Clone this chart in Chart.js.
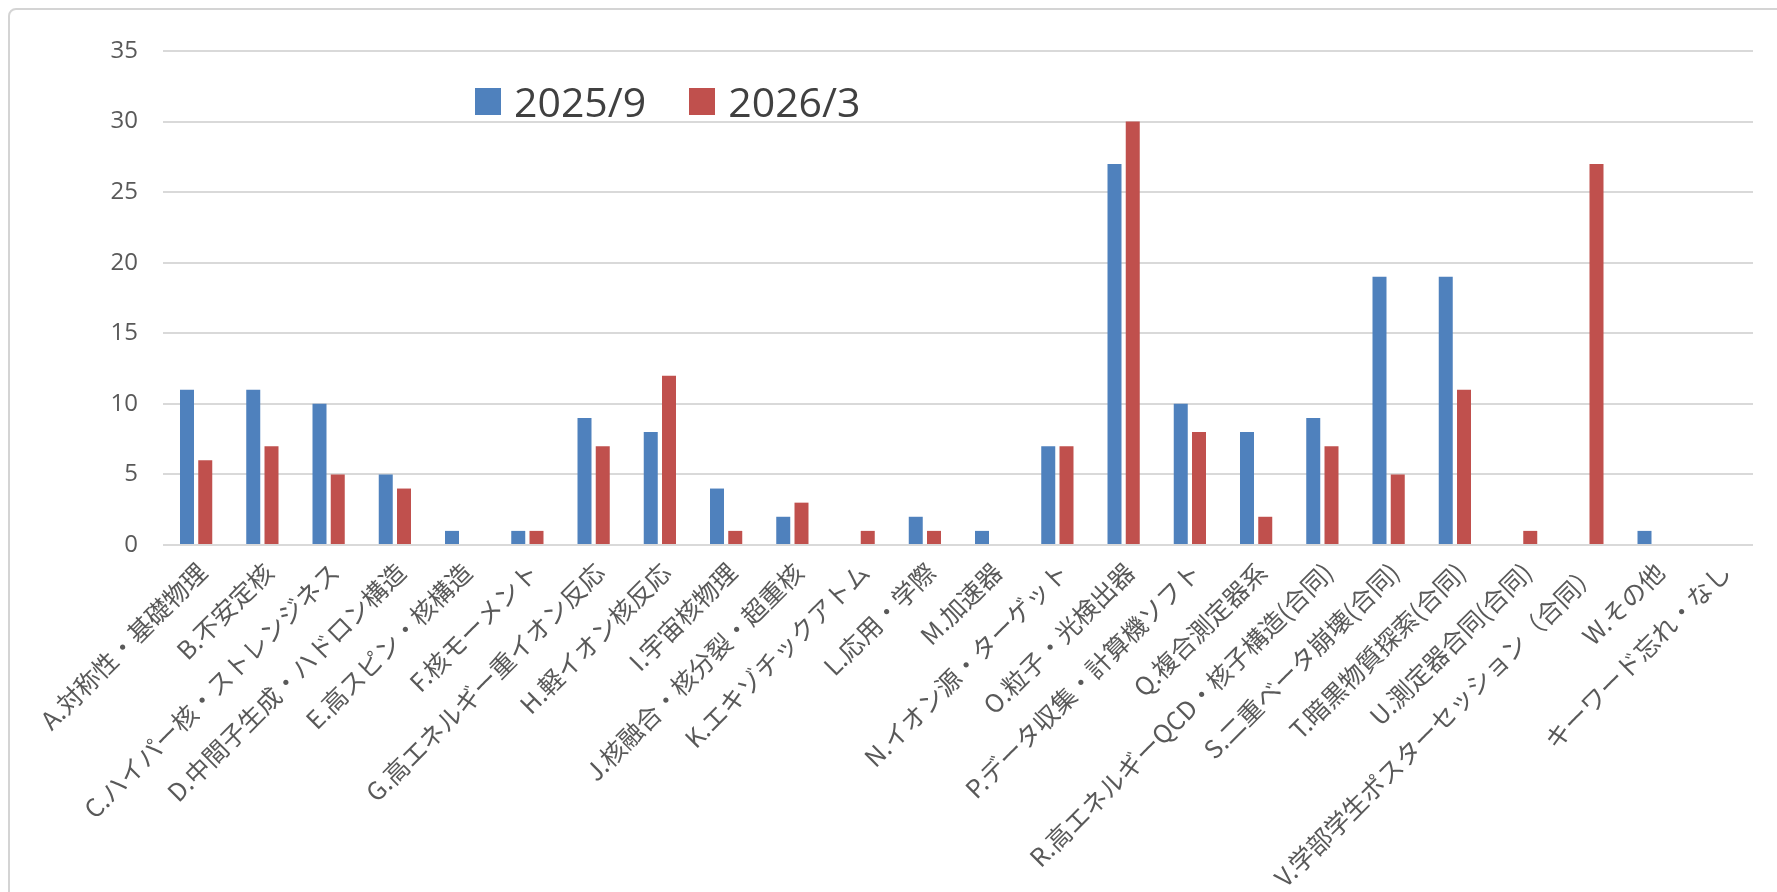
<!DOCTYPE html>
<html lang="ja">
<head>
<meta charset="utf-8">
<title>キーワード別件数</title>
<script src="https://cdn.jsdelivr.net/npm/chart.js@4.4.1/dist/chart.umd.min.js"></script>
<style>
  html, body { margin: 0; padding: 0; background: #fff; overflow: hidden; }
  #wrap { position: relative; width: 1777px; height: 892px; }
  #frame {
    position: absolute; left: 8px; top: 8px; width: 1800px; height: 920px;
    border: 2px solid #d4d4d4; border-radius: 8px; box-sizing: border-box;
  }
  #legend {
    position: absolute; left: 475px; top: 79px;
    display: flex; align-items: center;
    font-family: "Open Sans", sans-serif; font-size: 41px; line-height: 44px; color: #404040;
  }
  .lg-item { display: flex; align-items: center; margin-right: 43px; }
  .lg-box { width: 26px; height: 27px; margin-right: 13px; }
</style>
</head>
<body>
<div id="wrap">
  <div id="frame"></div>
  <canvas id="keywordChart"></canvas>
  <div id="legend"></div>
</div>
<script>
// categories (keywords)
const categories = [
  'A.対称性・基礎物理',
  'B.不安定核',
  'C.ハイパー核・ストレンジネス',
  'D.中間子生成・ハドロン構造',
  'E.高スピン・核構造',
  'F.核モーメント',
  'G.高エネルギー重イオン反応',
  'H.軽イオン核反応',
  'I.宇宙核物理',
  'J.核融合・核分裂・超重核',
  'K.エキゾチックアトム',
  'L.応用・学際',
  'M.加速器',
  'N.イオン源・ターゲット',
  'O.粒子・光検出器',
  'P.データ収集・計算機ソフト',
  'Q.複合測定器系',
  'R.高エネルギーQCD・核子構造(合同)',
  'S.二重ベータ崩壊(合同)',
  'T.暗黒物質探索(合同)',
  'U.測定器合同(合同)',
  'V.学部学生ポスターセッション（合同）',
  'W.その他',
  'キーワード忘れ・なし'
];

const seriesNames = ['2025/9', '2026/3'];

// counts per keyword
const sep2025 = [11, 11, 10, 5, 1, 1, 9, 8, 4, 2, 0, 2, 1, 7, 27, 10, 8, 9, 19, 19, 0, 0, 1, 0];
const mar2026 = [6, 7, 5, 4, 0, 1, 7, 12, 1, 3, 1, 1, 0, 7, 30, 8, 2, 7, 5, 11, 1, 27, 0, 0];

// y axis ticks
const yTicks = [0, 5, 10, 15, 20, 25, 30, 35];

const BLUE = '#4f81bd';
const RED = '#c0504d';

const ctx = document.getElementById('keywordChart').getContext('2d');
const chart = new Chart(ctx, {
  type: 'bar',
  data: {
    labels: categories,
    datasets: [
      { label: seriesNames[0], data: sep2025, backgroundColor: BLUE },
      { label: seriesNames[1], data: mar2026, backgroundColor: RED }
    ]
  },
  options: {
    responsive: true,
    maintainAspectRatio: false,
    animation: false,
    devicePixelRatio: 1,
    layout: { padding: { top: 51, right: 24, left: 0, bottom: 0 } },
    datasets: {
      bar: { categoryPercentage: 0.551, barPercentage: 0.767, borderWidth: 0 }
    },
    plugins: {
      legend: { display: false },
      tooltip: { enabled: false }
    },
    scales: {
      x: {
        grid: { display: false, drawTicks: false },
        border: { display: false },
        ticks: {
          autoSkip: false,
          maxRotation: 45,
          minRotation: 45,
          padding: 12,
          labelOffset: 6,
          color: '#595959',
          font: { family: '"Noto Sans CJK JP", sans-serif', size: 25 }
        },
        afterFit: scale => { scale.height = 347; }
      },
      y: {
        min: 0,
        max: yTicks[yTicks.length - 1],
        afterBuildTicks: scale => { scale.ticks = yTicks.map(v => ({ value: v })); },
        grid: { color: '#d9d9d9', lineWidth: 2, drawTicks: false },
        border: { display: false },
        ticks: {
          padding: 25,
          color: '#595959',
          font: { family: '"Open Sans", sans-serif', size: 24 }
        },
        afterFit: scale => { scale.width = 163; }
      }
    }
  }
});

// legend built from the datasets, placed inside the plot like the original
const legend = document.getElementById('legend');
chart.data.datasets.forEach(ds => {
  const item = document.createElement('div');
  item.className = 'lg-item';
  const box = document.createElement('span');
  box.className = 'lg-box';
  box.style.background = ds.backgroundColor;
  const txt = document.createElement('span');
  txt.textContent = ds.label;
  item.appendChild(box);
  item.appendChild(txt);
  legend.appendChild(item);
});
</script>
</body>
</html>
